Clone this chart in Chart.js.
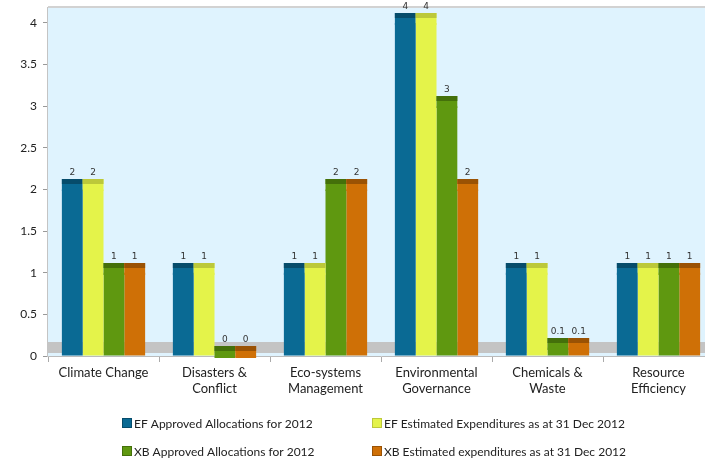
<!DOCTYPE html>
<html lang="en">
<head>
    <meta charset="UTF-8">
    <title>Allocations and Expenditures 2012</title>
    <script src="https://cdn.jsdelivr.net/npm/chart.js"></script>
    <style>
        html, body { margin: 0; padding: 0; background: #fff; overflow: hidden; }
        #wrap { width: 715px; height: 459px; position: relative; }
    </style>
</head>
<body>
    <div id="wrap">
        <canvas id="grafico"></canvas>
    </div>

<script>
    const categorias = [
        ['Climate Change'],
        ['Disasters &', 'Conflict'],
        ['Eco-systems', 'Management'],
        ['Environmental', 'Governance'],
        ['Chemicals &', 'Waste'],
        ['Resource', 'Efficiency']
    ];
    const efAprovado = [2, 1, 1, 4, 1, 1];
    const efEstimado = [2, 1, 1, 4, 1, 1];
    const xbAprovado = [1, 0, 2, 3, 0.1, 1];
    const xbEstimado = [1, 0, 2, 2, 0.1, 1];
    const ticksY = [0, 0.5, 1, 1.5, 2, 2.5, 3, 3.5, 4];

    const series = [
        { label: 'EF Approved Allocations for 2012', data: efAprovado, cor: '#0a6a94', topo: '#064c6b' },
        { label: 'EF Estimated Expenditures as at 31 Dec 2012', data: efEstimado, cor: '#e4f34a', topo: '#bcc83a' },
        { label: 'XB Approved Allocations for 2012', data: xbAprovado, cor: '#5f9810', topo: '#44700a' },
        { label: 'XB Estimated expenditures as at 31 Dec 2012', data: xbEstimado, cor: '#cf7006', topo: '#9a5204' }
    ];

    // fundo azul, borda de cima e "chão" cinza
    const fundo = {
        id: 'fundo',
        beforeDatasetsDraw(chart) {
            const { ctx, chartArea: a } = chart;
            ctx.save();
            ctx.fillStyle = '#dff3fe';
            ctx.fillRect(a.left, a.top, a.right - a.left, a.bottom - a.top);
            ctx.fillStyle = '#c4c4c4';
            ctx.fillRect(a.left, a.bottom - 14, a.right - a.left, 11);
            ctx.fillStyle = '#d2d2d2';
            ctx.fillRect(a.left, a.top - 2, a.right - a.left, 2);
            ctx.restore();
        }
    };

    // face de cima das barras + rótulos
    const topoBarras = {
        id: 'topoBarras',
        afterDatasetsDraw(chart) {
            const ctx = chart.ctx;
            ctx.save();
            chart.data.datasets.forEach((ds, i) => {
                const meta = chart.getDatasetMeta(i);
                meta.data.forEach((bar, j) => {
                    const w = bar.width;
                    const y = Math.round(bar.y);
                    ctx.fillStyle = ds.backgroundColor;
                    ctx.fillRect(bar.x - w / 2, y - 10, w, 12);
                    ctx.fillStyle = ds.corTopo;
                    ctx.fillRect(bar.x - w / 2, y - 10, w, 5);
                    ctx.fillStyle = '#333';
                    ctx.font = '9px "DejaVu Sans"';
                    ctx.textAlign = 'center';
                    ctx.textBaseline = 'middle';
                    ctx.fillText(String(ds.data[j]), bar.x, y - 16);
                });
            });
            ctx.restore();
        }
    };

    // legenda 2x2
    const legenda = {
        id: 'legenda',
        afterDraw(chart) {
            const ctx = chart.ctx;
            const colunas = [122, 372];
            const linhas = [424, 452];
            ctx.save();
            ctx.font = '12px Lato';
            ctx.textBaseline = 'middle';
            ctx.textAlign = 'left';
            chart.data.datasets.forEach((ds, i) => {
                const x = colunas[i % 2];
                const y = linhas[Math.floor(i / 2)];
                ctx.fillStyle = ds.backgroundColor;
                ctx.fillRect(x, y - 6, 10, 10);
                ctx.strokeStyle = ds.corTopo;
                ctx.lineWidth = 1;
                ctx.strokeRect(x + 0.5, y - 5.5, 9, 9);
                ctx.fillStyle = '#222';
                ctx.fillText(ds.label, x + 12, y);
            });
            ctx.restore();
        }
    };

    new Chart(document.getElementById('grafico'), {
        type: 'bar',
        data: {
            labels: categorias,
            datasets: series.map(s => ({
                label: s.label,
                data: s.data,
                backgroundColor: s.cor,
                corTopo: s.topo,
                borderWidth: 0,
                categoryPercentage: 0.75,
                barPercentage: 1.0
            }))
        },
        options: {
            responsive: true,
            maintainAspectRatio: false,
            animation: false,
            layout: { padding: { left: 0, top: 8, right: 1, bottom: 59 } },
            plugins: {
                legend: { display: false },
                tooltip: { enabled: false }
            },
            scales: {
                x: {
                    grid: { drawOnChartArea: false, tickLength: 6, color: '#aaa' },
                    border: { color: '#bbb', width: 1 },
                    ticks: { color: '#222', font: { family: 'Lato', size: 13 }, padding: 3, maxRotation: 0 },
                    afterFit(scale) { scale.height = 44; }
                },
                y: {
                    min: 0,
                    max: 4.18,
                    afterBuildTicks(scale) { scale.ticks = ticksY.map(v => ({ value: v })); },
                    grid: { drawOnChartArea: false, tickLength: 5, color: '#999' },
                    border: { color: '#c4c4c4', width: 2 },
                    ticks: {
                        color: '#222',
                        font: { family: 'Lato', size: 12 },
                        padding: 6,
                        callback: v => String(v)
                    },
                    afterFit(scale) {
                        scale.width = 48;
                        scale.paddingTop = 0;
                        scale.paddingBottom = 0;
                    }
                }
            }
        },
        plugins: [fundo, topoBarras, legenda]
    });
</script>
</body>
</html>
